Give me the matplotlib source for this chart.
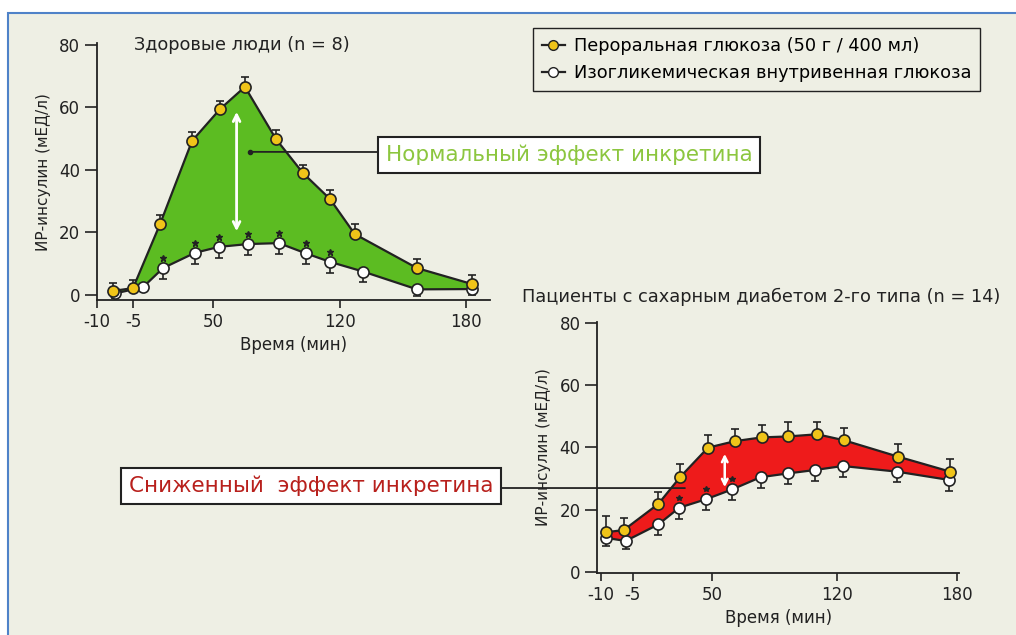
import numpy as np
import matplotlib
matplotlib.use('Agg')
import matplotlib.pyplot as plt
from matplotlib.lines import Line2D
from matplotlib.patches import Rectangle

plt.rcParams['font.family'] = ['DejaVu Sans']

# --- данные (время в минутах, инсулин в мЕД/л) ---
x_ticks = [-10, -5, 50, 120, 180]
y_ticks = [0, 20, 40, 60, 80]

# здоровые люди
t_oral_h = [-7.8, -5, 13.6, 35.6, 53.9, 67.6, 84.7, 99.6, 114.5, 127, 156.7, 182.9]
oral_h = [1.3, 2.2, 22.7, 49.3, 59.5, 66.6, 49.9, 39.0, 30.7, 19.5, 8.6, 3.5]
oral_h_err = [2.5, 2.5, 3, 3, 2.5, 3.2, 3, 2.5, 3, 3.2, 3, 3]
t_iv_h = [-7.5, 1.9, 15.6, 37.6, 53.3, 69.3, 86.3, 101.3, 114.5, 131, 156.7, 182.9]
iv_h = [0.5, 2.5, 8.6, 13.5, 15.4, 16.3, 16.6, 13.3, 10.6, 7.5, 1.8, 1.9]
iv_h_err = [1.5, 1, 3.5, 3.5, 3.5, 3.5, 3.5, 3.5, 3.5, 3.5, 2, 2]
star_idx_h = [2, 3, 4, 5, 6, 7, 8]

# пациенты с СД 2 типа
t_oral_d = [-9.2, -6.4, 12.7, 27.9, 47.0, 62.8, 77.8, 92.4, 109.1, 123.5, 150.6, 176.4]
oral_d = [12.7, 13.4, 21.8, 30.5, 39.9, 42.0, 43.2, 43.5, 44.2, 42.3, 37.0, 32.2]
oral_d_err = [5.3, 4, 4, 4, 4, 4, 4, 4.5, 4, 4, 4, 4]
t_iv_d = [-9.2, -6.1, 12.7, 27.2, 45.6, 61.3, 77.2, 92.4, 107.6, 123.0, 149.8, 176.1]
iv_d = [10.9, 9.9, 15.2, 20.6, 23.3, 26.5, 30.4, 31.6, 32.7, 34.0, 32.2, 29.5]
iv_d_err = [2.5, 2.5, 3.5, 3.5, 3.5, 3.5, 3.5, 3.5, 3.5, 3.5, 3.5, 3.5]
star_idx_d = [3, 4, 5]

W, H = 1016, 635
BG = '#eeefe4'
YELLOW = '#f0c419'
INK = '#222222'


def make_scale(tick_px):
    t = np.array(x_ticks, float)
    p = np.array(tick_px, float)
    t_ext = np.r_[t[0] - 100, t, t[-1] + 200]
    p_ext = np.r_[p[0] - 100 * (p[1] - p[0]) / (t[1] - t[0]), p,
                  p[-1] + 200 * (p[-1] - p[-2]) / (t[-1] - t[-2])]
    fwd = lambda v: np.interp(v, t_ext, p_ext)
    inv = lambda v: np.interp(v, p_ext, t_ext)
    return fwd, inv


def px_axes(fig, l, r, t, b):
    return fig.add_axes([l / W, 1 - b / H, (r - l) / W, (b - t) / H])


def draw_panel(ax, tick_px, box, ylim, t_o, y_o, e_o, t_i, y_i, e_i, fill, stars, star_ms):
    fwd, inv = make_scale(tick_px)
    ax.set_xscale('function', functions=(fwd, inv))
    ax.set_xlim(inv(box[0]), inv(box[1]))
    ax.set_ylim(*ylim)
    ax.patch.set_alpha(0)
    for s in ['top', 'right']:
        ax.spines[s].set_visible(False)
    for s in ['left', 'bottom']:
        ax.spines[s].set_linewidth(1.3)
        ax.spines[s].set_color(INK)
    ax.set_xticks(x_ticks)
    ax.set_xticklabels([str(v) for v in x_ticks])
    ax.set_yticks(y_ticks)
    ax.xaxis.set_minor_locator(matplotlib.ticker.NullLocator())
    ax.tick_params(axis='y', length=9, width=1.2, labelsize=12, colors=INK, pad=3)
    ax.tick_params(axis='x', length=6, width=1.2, labelsize=12, colors=INK, pad=3)
    ax.set_xlabel('Время (мин)', fontsize=12, color=INK, labelpad=4)
    ax.set_ylabel('ИР-инсулин (мЕД/л)', fontsize=11, color=INK, labelpad=6)

    t_o, y_o, e_o = map(np.asarray, (t_o, y_o, e_o))
    t_i, y_i, e_i = map(np.asarray, (t_i, y_i, e_i))
    ax.fill(np.r_[t_o, t_i[::-1]], np.r_[y_o, y_i[::-1]], color=fill, lw=0, zorder=1)
    ax.errorbar(t_o, y_o, yerr=[np.zeros_like(e_o), e_o], fmt='none', ecolor=INK,
                elinewidth=1.2, capsize=3, capthick=1.2, zorder=2)
    ax.errorbar(t_i, y_i, yerr=[e_i, np.zeros_like(e_i)], fmt='none', ecolor=INK,
                elinewidth=1.2, capsize=3, capthick=1.2, zorder=2)
    ax.plot(t_i, y_i, '-o', color=INK, lw=1.6, ms=8, mfc='white', mec=INK, mew=1.2, zorder=3)
    ax.plot(t_o, y_o, '-o', color=INK, lw=1.6, ms=8, mfc=YELLOW, mec=INK, mew=1.2, zorder=4)
    ax.plot(t_i[stars], y_i[stars] + 3.2, '*', color=INK, ms=star_ms, zorder=4, clip_on=False)
    return fwd


fig = plt.figure(figsize=(W / 100, H / 100), dpi=100, facecolor='white')
fig.patches.append(Rectangle((8 / W, -0.05), 1.1, 1 - 13 / H + 0.05, transform=fig.transFigure,
                             facecolor=BG, edgecolor='#4f82c8', lw=1.5, zorder=-10))

# левая панель
ax1 = px_axes(fig, 97, 490, 43.4, 300)
draw_panel(ax1, [97, 133, 213, 340, 466], (97, 490), (-1.6, 80.5),
           t_oral_h, oral_h, oral_h_err, t_iv_h, iv_h, iv_h_err, '#5cbc22', star_idx_h, 5)
ax1.text(0.093, 0.995, 'Здоровые люди (n = 8)', transform=ax1.transAxes, fontsize=12.8,
         color=INK, va='center', ha='left')
ax1.annotate('', xy=(63, 19.5), xytext=(63, 59.5),
             arrowprops=dict(arrowstyle='<->', color='white', lw=2, mutation_scale=12), zorder=5)
ax1.plot([70.4], [45.8], 'o', color=INK, ms=3, zorder=5)
ax1.annotate('', xy=(70.4, 45.8), xycoords='data', xytext=(378 / W, 1 - 152 / H),
             textcoords='figure fraction',
             arrowprops=dict(arrowstyle='-', color=INK, lw=1.3, shrinkA=0, shrinkB=0))
fig.text(569 / W, 1 - 155 / H, 'Нормальный эффект инкретина', fontsize=15.5, color='#8cc63f',
         ha='center', va='center',
         bbox=dict(boxstyle='square,pad=0.35', facecolor='white', edgecolor=INK, lw=1.5))

# правая панель
ax2 = px_axes(fig, 597.3, 959, 321.7, 573.3)
draw_panel(ax2, [600.7, 632.7, 712.3, 836.7, 957.3], (597.3, 959), (-0.5, 80.4),
           t_oral_d, oral_d, oral_d_err, t_iv_d, iv_d, iv_d_err, '#ee1b1b', star_idx_d, 4)
fig.text(522 / W, 1 - 297 / H, 'Пациенты с сахарным диабетом 2-го типа (n = 14)', fontsize=12.8,
         color=INK, va='center', ha='left')
ax2.annotate('', xy=(57, 26.3), xytext=(57, 38.8),
             arrowprops=dict(arrowstyle='<->', color='white', lw=1.8, mutation_scale=10), zorder=5)
ax2.annotate('', xy=(31.1, 26.9), xycoords='data', xytext=(500 / W, 1 - 488 / H),
             textcoords='figure fraction',
             arrowprops=dict(arrowstyle='-', color=INK, lw=1.3, shrinkA=0, shrinkB=0))
fig.text(311 / W, 1 - 486 / H, 'Сниженный  эффект инкретина', fontsize=15.5, color='#b8201c',
         ha='center', va='center',
         bbox=dict(boxstyle='square,pad=0.35', facecolor='white', edgecolor=INK, lw=1.5))

# легенда
handles = [Line2D([], [], color=INK, lw=1.6, marker='o', ms=7, mfc=YELLOW, mec=INK),
           Line2D([], [], color=INK, lw=1.6, marker='o', ms=7, mfc='white', mec=INK)]
labels = ['Пероральная глюкоза (50 г / 400 мл)', 'Изогликемическая внутривенная глюкоза']
fig.legend(handles, labels, loc='upper left', bbox_to_anchor=(533 / W, 1 - 28 / H),
           fontsize=12.8, frameon=True, fancybox=False, edgecolor=INK, facecolor=BG,
           framealpha=1, handlelength=1.3, handletextpad=0.5, borderpad=0.5,
           labelspacing=0.5, borderaxespad=0)

fig.savefig('out.png', dpi=100, facecolor='white')
